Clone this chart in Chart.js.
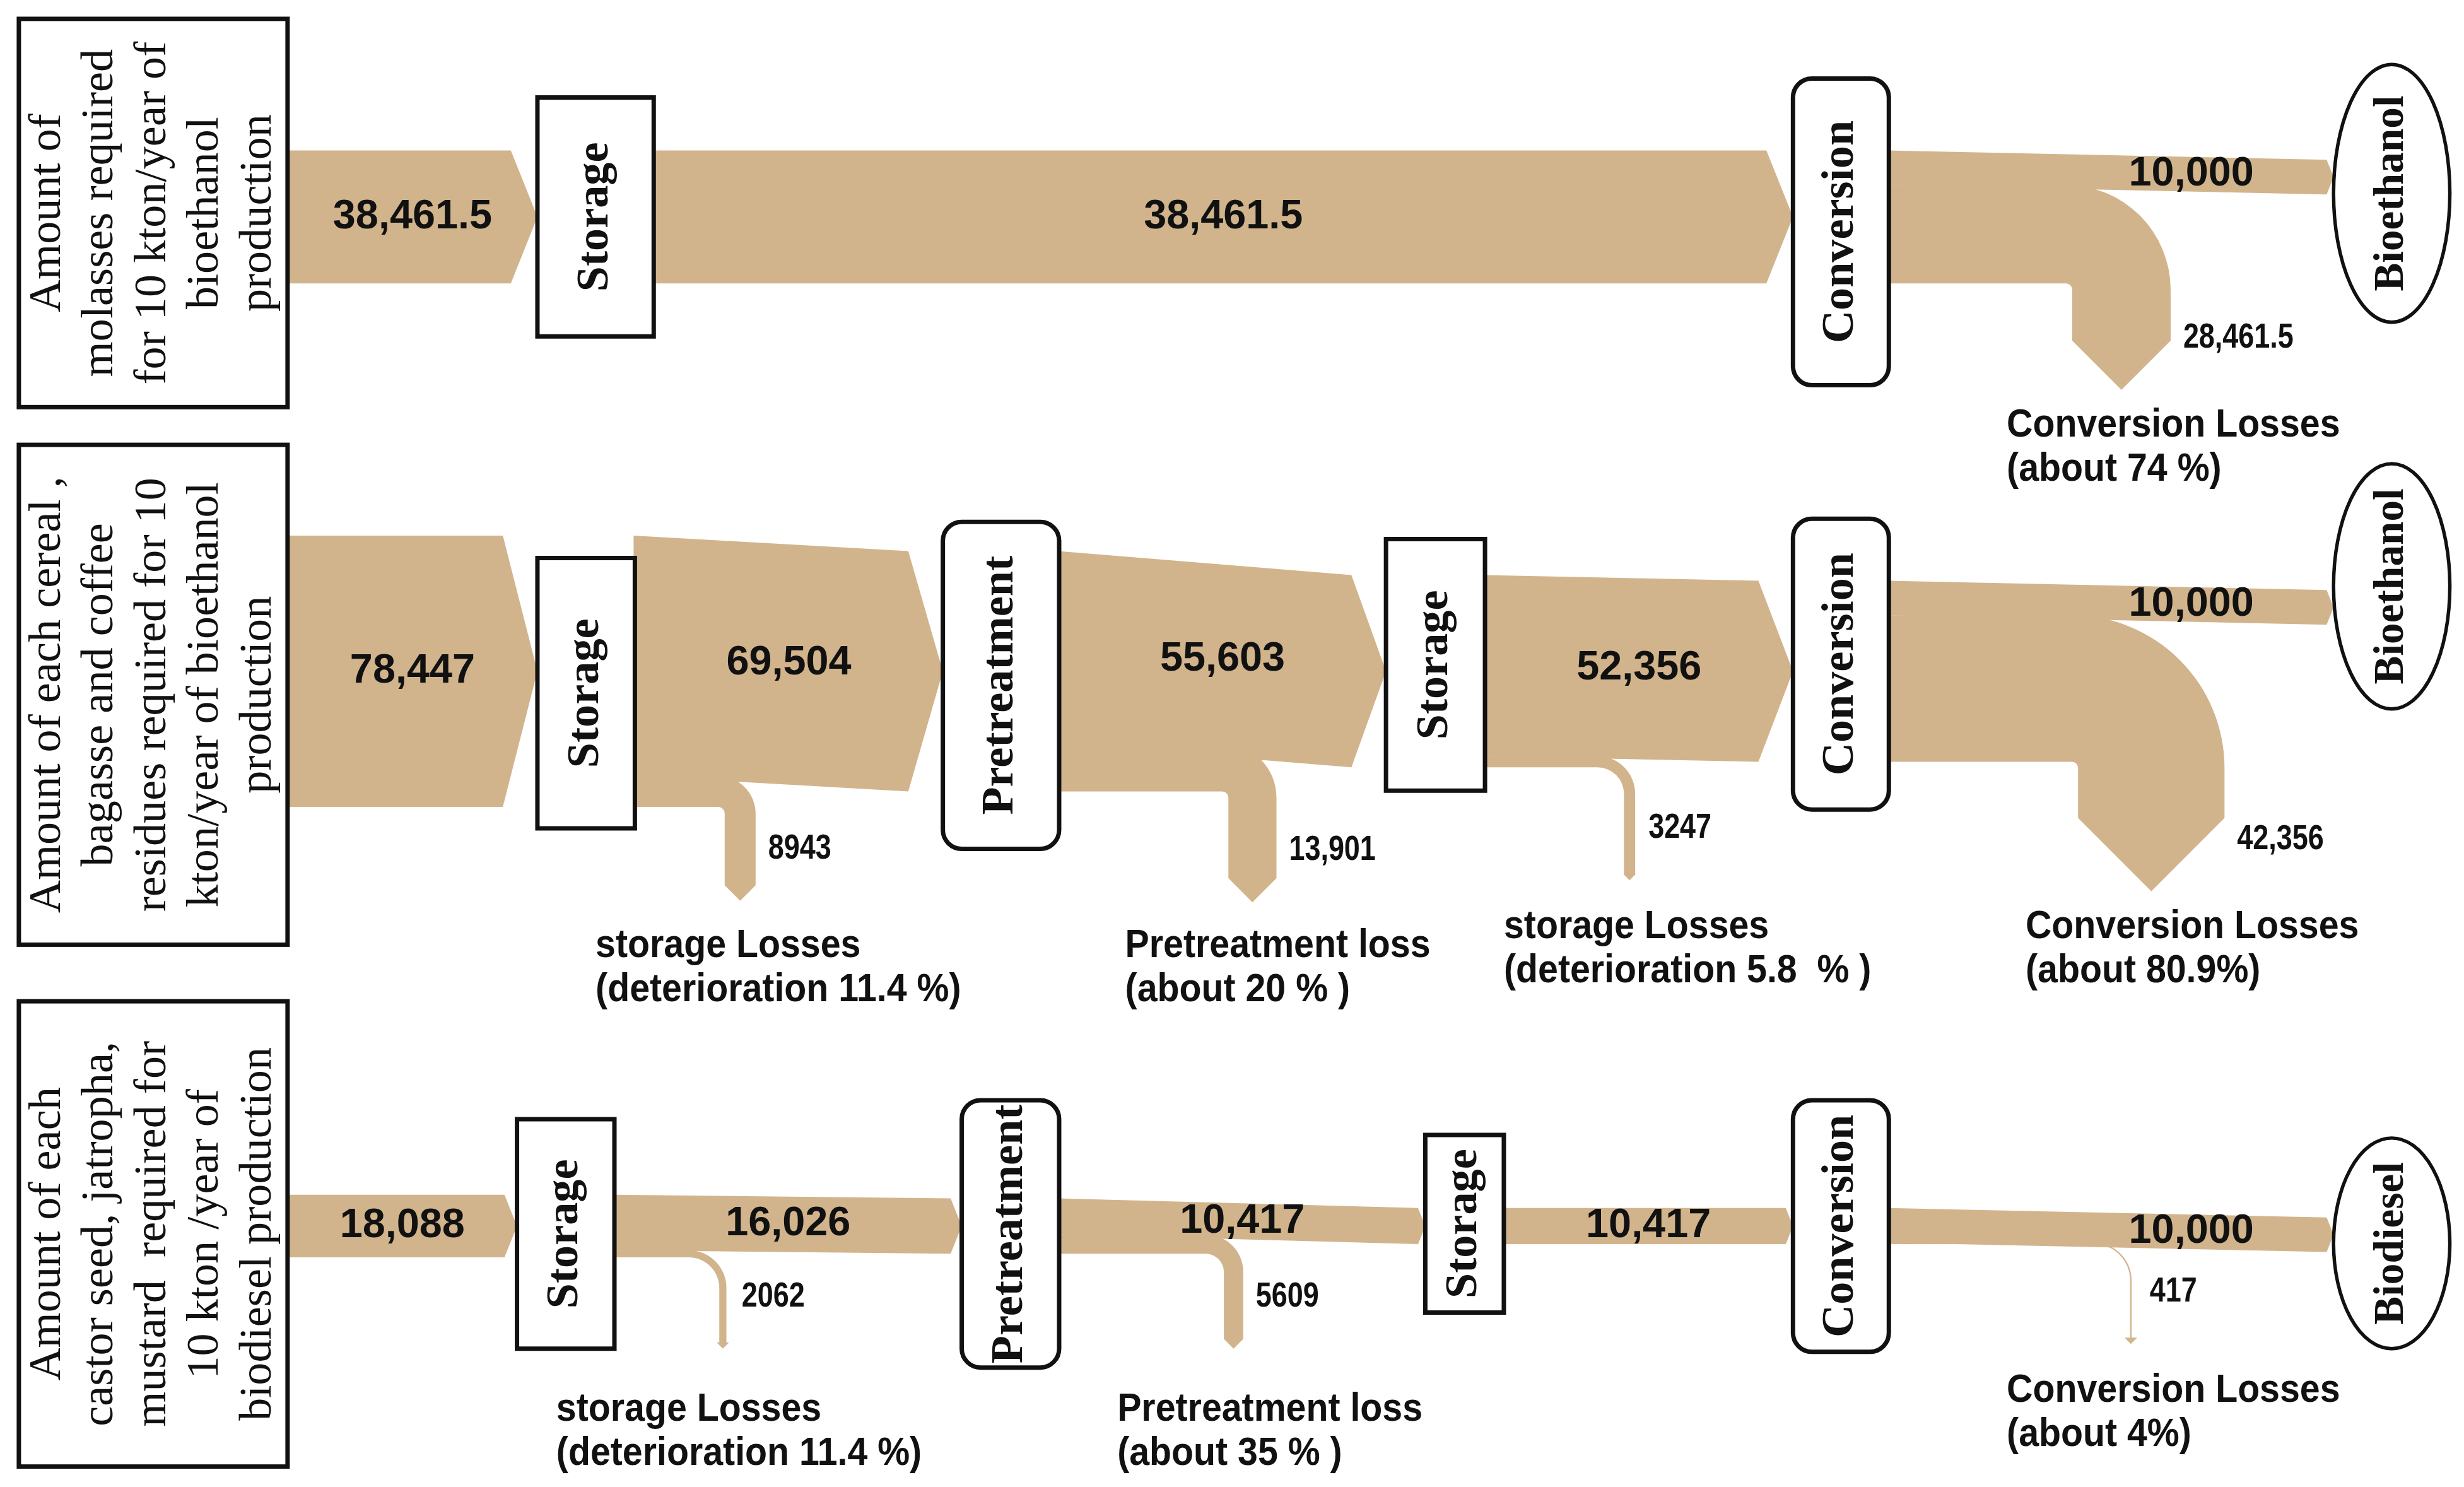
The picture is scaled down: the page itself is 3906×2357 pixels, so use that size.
<!DOCTYPE html>
<html>
<head>
<meta charset="utf-8">
<script src="https://cdn.jsdelivr.net/npm/chart.js@4.4.1/dist/chart.umd.min.js"></script>
<style>
  html, body { margin: 0; padding: 0; background: #fff; }
  #wrap { width: 3906px; height: 2357px; }
</style>
</head>
<body>
<div id="wrap"><canvas id="flows" width="3906" height="2357"></canvas></div>
<script>
// molasses -> bioethanol
const molassesSource = ['Amount of', 'molasses required', 'for 10 kton/year of', 'bioethanol', 'production'];
const molassesSteps = ['Storage', 'Conversion'];
const molassesFlows = [38461.5, 38461.5, 10000];
const molassesLosses = [0, 28461.5];
const molassesNotes = [null, ['Conversion Losses', '(about 74 %)']];

// cereal / bagasse / coffee residues -> bioethanol
const cerealSource = ['Amount of each cereal ,', 'bagasse and coffee', 'residues required for 10', 'kton/year of bioethanol', 'production'];
const cerealSteps = ['Storage', 'Pretreatment', 'Storage', 'Conversion'];
const cerealFlows = [78447, 69504, 55603, 52356, 10000];
const cerealLosses = [8943, 13901, 3247, 42356];
const cerealNotes = [
  ['storage Losses', '(deterioration 11.4 %)'],
  ['Pretreatment loss', '(about 20 % )'],
  ['storage Losses', '(deterioration 5.8  % )'],
  ['Conversion Losses', '(about 80.9%)']
];

// castor seed / jatropha / mustard -> biodiesel
const castorSource = ['Amount of each', 'castor seed, jatropha,', 'mustard  required for', '10 kton /year of', 'biodiesel production'];
const castorSteps = ['Storage', 'Pretreatment', 'Storage', 'Conversion'];
const castorFlows = [18088, 16026, 10417, 10417, 10000];
const castorLosses = [2062, 5609, 0, 417];
const castorNotes = [
  ['storage Losses', '(deterioration 11.4 %)'],
  ['Pretreatment loss', '(about 35 % )'],
  null,
  ['Conversion Losses', '(about 4%)']
];

const rows = [
  { source: molassesSource, steps: molassesSteps, flows: molassesFlows, losses: molassesLosses, notes: molassesNotes, product: 'Bioethanol' },
  { source: cerealSource, steps: cerealSteps, flows: cerealFlows, losses: cerealLosses, notes: cerealNotes, product: 'Bioethanol' },
  { source: castorSource, steps: castorSteps, flows: castorFlows, losses: castorLosses, notes: castorNotes, product: 'Biodiesel' }
];

// layout in a 1568 x 946 grid: boxes [x0,y0,x1,y1,rounded], ellipse [cx,cy,rx,ry], drops [x, tip, noteX, noteY]
const layout = [
  { yc: 138, box: [12, 12, 183, 259],
    nodes: [[342, 62, 416, 214, 0], [1141, 50, 1202, 245, 1]],
    ell: [1522, 123, 37, 82],
    drops: [null, [1350, 248, 1277, 271]] },
  { yc: 427, box: [12, 283, 183, 601],
    nodes: [[342, 355, 404, 527, 0], [600, 332, 674, 540, 1], [882, 343, 945, 503, 0], [1141, 330, 1202, 515, 1]],
    ell: [1522, 373, 37, 78],
    drops: [[471, 573, 379, 602], [797, 574, 716, 602], [1037, 560, 957, 590], [1369, 567, 1289, 590]] },
  { yc: 780, box: [12, 637, 183, 933],
    nodes: [[329, 712, 391, 858, 0], [612, 700, 674, 870, 1], [907, 722, 957, 835, 0], [1141, 700, 1202, 860, 1]],
    ell: [1522, 791, 37, 67],
    drops: [[460, 858, 354, 897], [785, 858, 711, 897], null, [1356, 855, 1277, 885]] }
];

const TAN = '#D2B48C';
const SANS = "'Liberation Sans', Arial, sans-serif";
const SERIF = "'Liberation Serif', 'Times New Roman', serif";

const fmtFlow = v => v.toLocaleString('en-US');
const fmtLoss = v => v >= 10000 ? v.toLocaleString('en-US') : String(v);

const flowPlugin = {
  id: 'flowPlugin',
  beforeDraw(chart) {
    const c = chart.ctx;
    c.save();
    c.fillStyle = '#fff';
    c.fillRect(0, 0, chart.width, chart.height);
    c.restore();
  },
  afterDraw(chart) {
    const c = chart.ctx;
    const sx = chart.scales.x, sy = chart.scales.y, sv = chart.scales.v;
    const X = u => sx.getPixelForValue(u);
    const Y = u => sy.getPixelForValue(u);
    const U = Math.abs(Y(1) - Y(0));
    const W = v => Math.abs(sv.getPixelForValue(v) - sv.getPixelForValue(0));

    function txt(s, x, y, font, align, squeeze) {
      c.save();
      c.translate(x, y);
      c.scale(squeeze || 1, 1);
      c.font = font;
      c.textAlign = align;
      c.textBaseline = 'middle';
      c.fillStyle = '#111';
      c.fillText(s, 0, 0);
      c.restore();
    }
    function vtxt(lines, x, y, font, lh) {
      c.save();
      c.translate(x, y);
      c.rotate(-Math.PI / 2);
      c.font = font;
      c.textAlign = 'center';
      c.textBaseline = 'middle';
      c.fillStyle = '#111';
      lines.forEach((s, i) => c.fillText(s, 0, (i - (lines.length - 1) / 2) * lh));
      c.restore();
    }

    function band(b) {
      const d = Math.min(0.2 * b.w, 22 * U);
      c.beginPath();
      c.moveTo(b.x0 - 2, b.t0);
      c.lineTo(b.x1 - d, b.t1);
      c.lineTo(b.x1, b.t1 + b.w / 2);
      c.lineTo(b.x1 - d, b.t1 + b.w);
      c.lineTo(b.x0 - 2, b.t0 + b.w);
      c.closePath();
      c.fill();
    }

    function drop(o) {
      const xc = X(o.d[0]), tip = Y(o.d[1]);
      const w = o.w;
      const r = Math.max(4 * U, 24 * U - w);
      const hw = Math.max(w / 2, 4 * U);
      const acx = xc - w / 2 - r, acy = o.top + w + r;
      c.beginPath();
      c.moveTo(o.x0 - 2, o.top);
      c.lineTo(acx, o.top);
      c.arc(acx, acy, r + w, -Math.PI / 2, 0);
      c.lineTo(xc + w / 2, tip - hw);
      c.lineTo(xc + hw, tip - hw);
      c.lineTo(xc, tip);
      c.lineTo(xc - hw, tip - hw);
      c.lineTo(xc - w / 2, tip - hw);
      c.lineTo(xc - w / 2, acy);
      c.arc(acx, acy, r, 0, -Math.PI / 2, true);
      c.lineTo(o.x0 - 2, o.top + w);
      c.closePath();
      c.fill();
    }

    rows.forEach((row, ri) => {
      const L = layout[ri];
      const yc = Y(L.yc);
      const outs = [X(L.box[2])].concat(L.nodes.map(n => X(n[2])));
      const ins = L.nodes.map(n => X(n[0])).concat([X(L.ell[0] - L.ell[2])]);
      const bands = [], drops = [];
      let top = yc - W(row.flows[0]) / 2;
      row.flows.forEach((v, i) => {
        const w = W(v);
        const last = i === row.flows.length - 1;
        const t1 = last ? top + 6 * U : yc - w / 2;
        bands.push({ x0: outs[i], x1: ins[i], t0: top, t1: t1, w: w, v: v, last: last });
        if (!last) {
          const lv = row.losses[i];
          if (lv > 0) {
            drops.push({ x0: outs[i + 1], top: t1 + W(row.flows[i + 1]), w: W(lv), v: lv, d: L.drops[i], note: row.notes[i] });
          }
          top = t1;
        }
      });

      c.save();
      c.fillStyle = TAN;
      drops.forEach(drop);
      bands.forEach(band);
      c.restore();

      // source box
      const b = L.box;
      c.save();
      c.lineWidth = 2.8 * U;
      c.strokeStyle = '#111';
      c.fillStyle = '#fff';
      c.fillRect(X(b[0]), Y(b[1]), X(b[2]) - X(b[0]), Y(b[3]) - Y(b[1]));
      c.strokeRect(X(b[0]), Y(b[1]), X(b[2]) - X(b[0]), Y(b[3]) - Y(b[1]));
      c.restore();
      vtxt(row.source, (X(b[0]) + X(b[2])) / 2, (Y(b[1]) + Y(b[3])) / 2, (29 * U) + 'px ' + SERIF, 33.5 * U);

      // process nodes
      L.nodes.forEach((n, i) => {
        const x0 = X(n[0]), y0 = Y(n[1]), w = X(n[2]) - x0, h = Y(n[3]) - y0;
        c.save();
        c.lineWidth = 2.8 * U;
        c.strokeStyle = '#111';
        c.fillStyle = '#fff';
        c.beginPath();
        if (n[4]) c.roundRect(x0, y0, w, h, 12 * U); else c.rect(x0, y0, w, h);
        c.fill();
        c.stroke();
        c.restore();
        vtxt([row.steps[i]], x0 + w / 2, y0 + h / 2, 'bold ' + (29 * U) + 'px ' + SERIF, 0);
      });

      // product ellipse
      const e = L.ell;
      c.save();
      c.lineWidth = 2.2 * U;
      c.strokeStyle = '#111';
      c.fillStyle = '#fff';
      c.beginPath();
      c.ellipse(X(e[0]), Y(e[1]), e[2] * U, e[3] * U, 0, 0, Math.PI * 2);
      c.fill();
      c.stroke();
      c.restore();
      vtxt([row.product], X(e[0]), Y(e[1]), 'bold ' + (27 * U) + 'px ' + SERIF, 0);

      // flow labels
      bands.forEach(bd => {
        const f = bd.last ? 0.68 : 0.5;
        const x = bd.x0 + (bd.x1 - bd.x0) * f;
        const y = bd.t0 + (bd.t1 - bd.t0) * f + bd.w / 2;
        txt(fmtFlow(bd.v), x, y, 'bold ' + (26 * U) + 'px ' + SANS, 'center');
      });

      // loss labels and notes
      drops.forEach(o => {
        const xc = X(o.d[0]), tip = Y(o.d[1]);
        const hw = Math.max(o.w / 2, 4 * U);
        txt(fmtLoss(o.v), xc + hw + 8 * U, tip - 33 * U, 'bold ' + (22 * U) + 'px ' + SANS, 'left', 0.82);
        if (o.note) {
          o.note.forEach((s, k) => {
            txt(s, X(o.d[2]), Y(o.d[3] + k * 28), 'bold ' + (25 * U) + 'px ' + SANS, 'left', 0.92);
          });
        }
      });
    });
  }
};

new Chart(document.getElementById('flows'), {
  type: 'scatter',
  data: { datasets: [] },
  options: {
    responsive: false,
    animation: false,
    devicePixelRatio: 1,
    events: [],
    layout: { padding: 0 },
    plugins: { legend: { display: false }, tooltip: { enabled: false }, title: { display: false } },
    scales: {
      x: { type: 'linear', min: 0, max: 1568, display: false },
      y: { type: 'linear', min: 0, max: 946, reverse: true, display: false },
      v: { type: 'linear', axis: 'y', min: 0, max: 430000, display: false }
    }
  },
  plugins: [flowPlugin]
});
</script>
</body>
</html>
